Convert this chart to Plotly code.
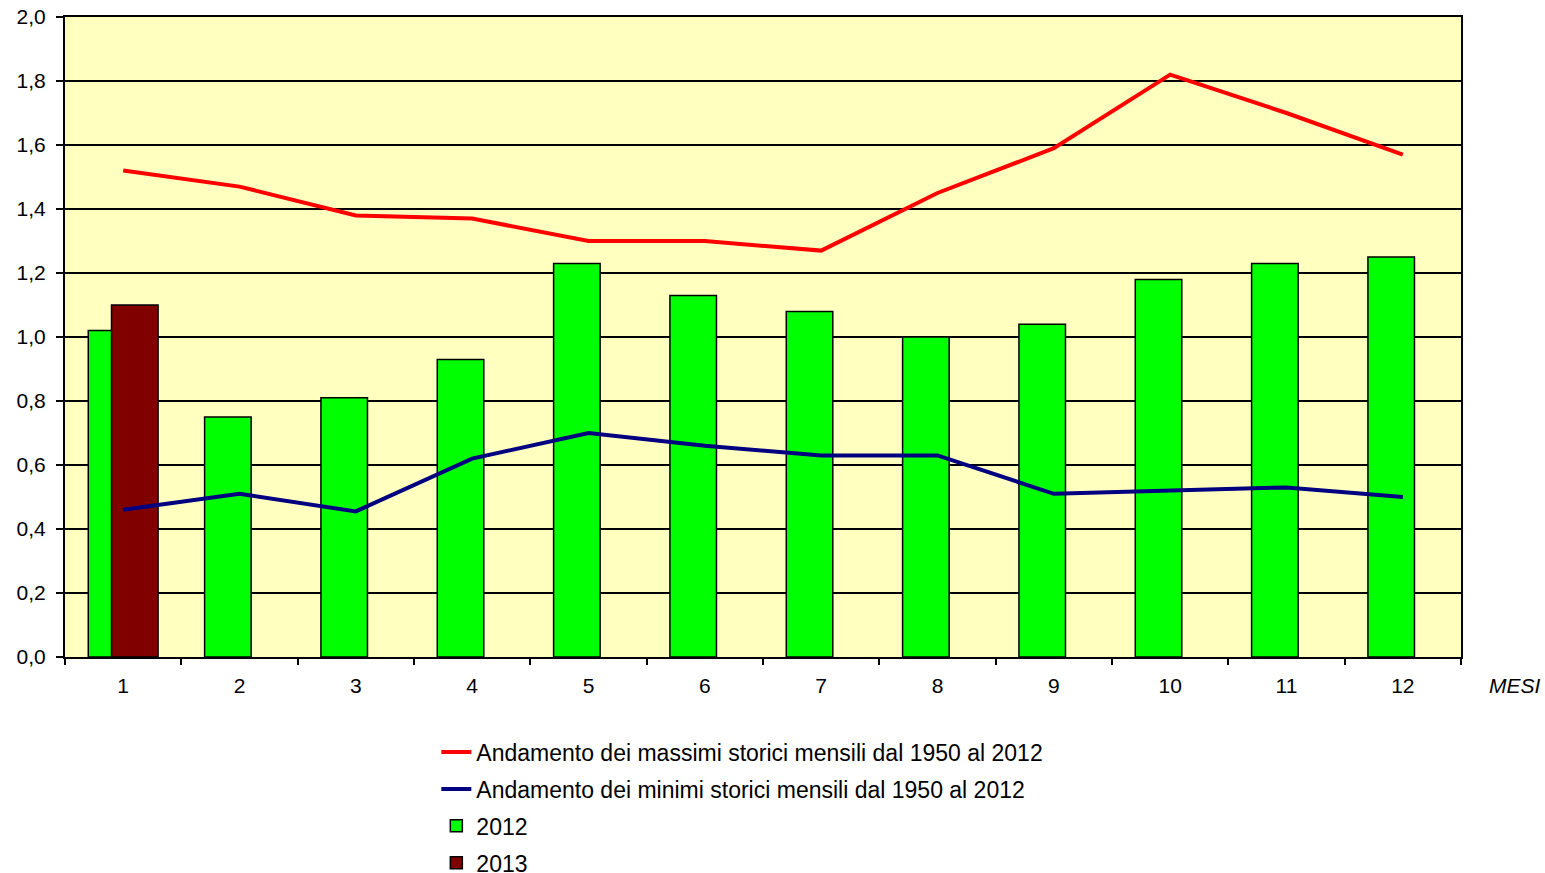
import plotly.graph_objects as go

mesi = list(range(1, 13))
massimi = [1.52, 1.47, 1.38, 1.37, 1.30, 1.30, 1.27, 1.45, 1.59, 1.82, 1.70, 1.57]
minimi = [0.46, 0.51, 0.455, 0.62, 0.70, 0.66, 0.63, 0.63, 0.51, 0.52, 0.53, 0.50]
val_2012 = [1.02, 0.75, 0.81, 0.93, 1.23, 1.13, 1.08, 1.00, 1.04, 1.18, 1.23, 1.25]
mesi_2013 = [1]
val_2013 = [1.10]

font_family = "Liberation Sans, Arial, sans-serif"

fig = go.Figure()
fig.add_trace(go.Scatter(x=mesi, y=massimi, mode="lines", line=dict(color="#FF0000", width=4),
                         name="Andamento dei massimi storici mensili dal 1950 al 2012", legendgroup="a"))
fig.add_trace(go.Scatter(x=mesi, y=minimi, mode="lines", line=dict(color="#000080", width=4),
                         name="Andamento dei minimi storici mensili dal 1950 al 2012", legendgroup="b"))
fig.add_trace(go.Bar(x=mesi, y=val_2012, width=0.4, offset=-0.3, name="2012", legendgroup="c",
                     marker=dict(color="#00FF00", line=dict(color="black", width=1.5))))
fig.add_trace(go.Bar(x=mesi_2013, y=val_2013, width=0.4, offset=-0.1, name="2013", legendgroup="d",
                     marker=dict(color="#800000", line=dict(color="black", width=1.5))))

fig.update_layout(
    width=1545, height=873,
    margin=dict(l=65, r=84, t=17, b=216, autoexpand=False),
    barmode="overlay",
    separators=",.",
    plot_bgcolor="#FFFFC0",
    paper_bgcolor="white",
    font=dict(family=font_family, size=20, color="black"),
    showlegend=True,
    legend=dict(x=0.266, y=-0.115, xanchor="left", yanchor="top", font=dict(size=23),
                tracegroupgap=4, bgcolor="rgba(0,0,0,0)"),
    xaxis=dict(range=[0.5, 12.5], tickvals=mesi, ticktext=[str(m) for m in mesi], ticks="",
               showgrid=False, showline=True, linecolor="black", linewidth=2, mirror=True,
               tickfont=dict(size=21), ticklabelstandoff=9,
               minor=dict(tickvals=[i + 0.5 for i in range(0, 13)], ticks="outside", ticklen=6,
                          tickcolor="black", tickwidth=1.5, showgrid=False),
               zeroline=False),
    yaxis=dict(range=[0, 2.0], tickvals=[0, 0.2, 0.4, 0.6, 0.8, 1.0, 1.2, 1.4, 1.6, 1.8, 2.0],
               tickformat=".1f", ticks="outside", ticklen=7, tickcolor="black", tickwidth=1.5,
               showgrid=True, gridcolor="black", gridwidth=1.5, tickfont=dict(size=21),
               ticklabelstandoff=6, ticklabeloverflow="allow",
               showline=True, linecolor="black", linewidth=2, mirror=True, zeroline=False),
)
fig.add_annotation(text="<i>MESI</i>", x=(1515 - 65) / 1396, y=(657 - 685) / 640,
                   xref="paper", yref="paper", xanchor="center", yanchor="middle",
                   showarrow=False, font=dict(size=21))

fig.write_html("out.html", config={"displayModeBar": False},
               post_script="document.body.style.margin='0';document.body.style.overflow='hidden';")
